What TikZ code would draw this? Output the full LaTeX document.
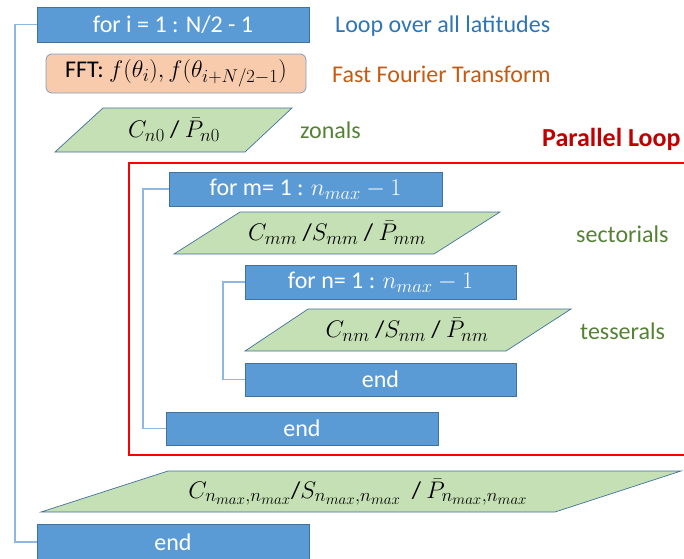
\RequirePackage{fix-cm}
\documentclass[tikz,border=0pt]{standalone}
\usepackage{fontspec}
\setmainfont{Carlito}
\DeclareMathSizes{24}{24}{18.5}{15}
\definecolor{boxblue}{HTML}{5B9BD5}
\definecolor{boxedge}{HTML}{41719C}
\definecolor{datagreen}{HTML}{C5E0B4}
\definecolor{fftfill}{HTML}{F8CBAD}
\definecolor{fftedge}{HTML}{7F9DBF}
\definecolor{railblue}{HTML}{8FB8E0}
\definecolor{labblue}{HTML}{2E75B6}
\definecolor{laborange}{HTML}{C55A11}
\definecolor{labgreen}{HTML}{548235}
\definecolor{labred}{HTML}{C00000}
\tikzset{
  big/.style={font=\fontsize{24}{28}\selectfont},
  loopbox/.style={big, draw=boxedge, line width=0.8pt, fill=boxblue, text=white,
    inner sep=0pt, anchor=center},
  fftbox/.style={big, draw=fftedge, line width=0.8pt, fill=fftfill, rounded corners=6pt,
    inner sep=0pt, minimum width=260pt, minimum height=39pt},
  para/.style={draw=boxedge, line width=0.7pt, fill=datagreen},
  paratext/.style={big, inner sep=0pt},
  rail/.style={draw=railblue, line width=1.3pt},
  note/.style={big, anchor=west, inner sep=0pt},
}
\begin{document}
\begin{tikzpicture}[x=1pt,y=-1pt]
\useasboundingbox (0,0) rectangle (684,558);
\clip (0,0) rectangle (684,558);

% rails of the three loops
\coordinate (railI) at (15,0);
\coordinate (railM) at (143,0);
\coordinate (railN) at (223,0);

% outer loop over latitudes
\node[loopbox, minimum width=272pt, minimum height=35pt] (fori) at (173,24.5) {for i = 1 : N/2 - 1};
\node[note, text=labblue] (lbli) at (335,26) {Loop over all latitudes};

\node[fftbox] (fft) at (176,73.5) {FFT: $f(\theta_i), f(\theta_{i+N/2-1})$};
\node[note, text=laborange] (lblfft) at (332,74) {Fast Fourier Transform};

\draw[para] (103,108) -- (292,108) -- (245,152) -- (55,152) -- cycle;
\node[paratext] (zon) at (174,130) {$C_{n0}$ / $\bar{P}_{n0}$};
\node[note, text=labgreen] (lblzon) at (300,130) {zonals};

% parallel region
\node[note, text=labred, font=\fontsize{26}{30}\selectfont\bfseries] (lblpar) at (542,139) {Parallel Loop};
\draw[red, line width=2pt] (129,163) rectangle (692,455);

\node[loopbox, minimum width=273pt, minimum height=34pt] (form) at (305.5,189) {for m= 1 : $n_{max}-1$};

\draw[para] (240,212) -- (500,212) -- (434,254) -- (174,254) -- cycle;
\node[paratext] (sec) at (337,233) {$C_{mm}$ /$S_{mm}$ / $\bar{P}_{mm}$};
\node[note, text=labgreen] (lblsec) at (576,234) {sectorials};

\node[loopbox, minimum width=271pt, minimum height=34pt] (forn) at (380.5,282) {for n= 1 : $n_{max}-1$};

\draw[para] (308,309) -- (571,309) -- (506,351) -- (245,351) -- cycle;
\node[paratext] (tes) at (407,330) {$C_{nm}$ /$S_{nm}$ / $\bar{P}_{nm}$};
\node[note, text=labgreen] (lbltes) at (580,331) {tesserals};

\node[loopbox, minimum width=271pt, minimum height=33pt] (endn) at (380.5,379.5) {end};
\node[loopbox, minimum width=272pt, minimum height=33pt] (endm) at (302,428.5) {end};

% diagonal term after the parallel region
\draw[para] (168,471) -- (681,471) -- (555,512) -- (41,512) -- cycle;
\node[paratext] (diag) at (358,492) {$C_{n_{max},n_{max}}$/$S_{n_{max},n_{max}}$\ \ / $\bar{P}_{n_{max},n_{max}}$};

\node[loopbox, minimum width=272pt, minimum height=35pt] (endi) at (173,542) {end};

% loop rails
\draw[rail] (fori.west) -- (fori.west -| railI) |- (endi.west);
\draw[rail] (form.west) -- (form.west -| railM) |- (endm.west);
\draw[rail] (forn.west) -- (forn.west -| railN) |- (endn.west);
\end{tikzpicture}
\end{document}
